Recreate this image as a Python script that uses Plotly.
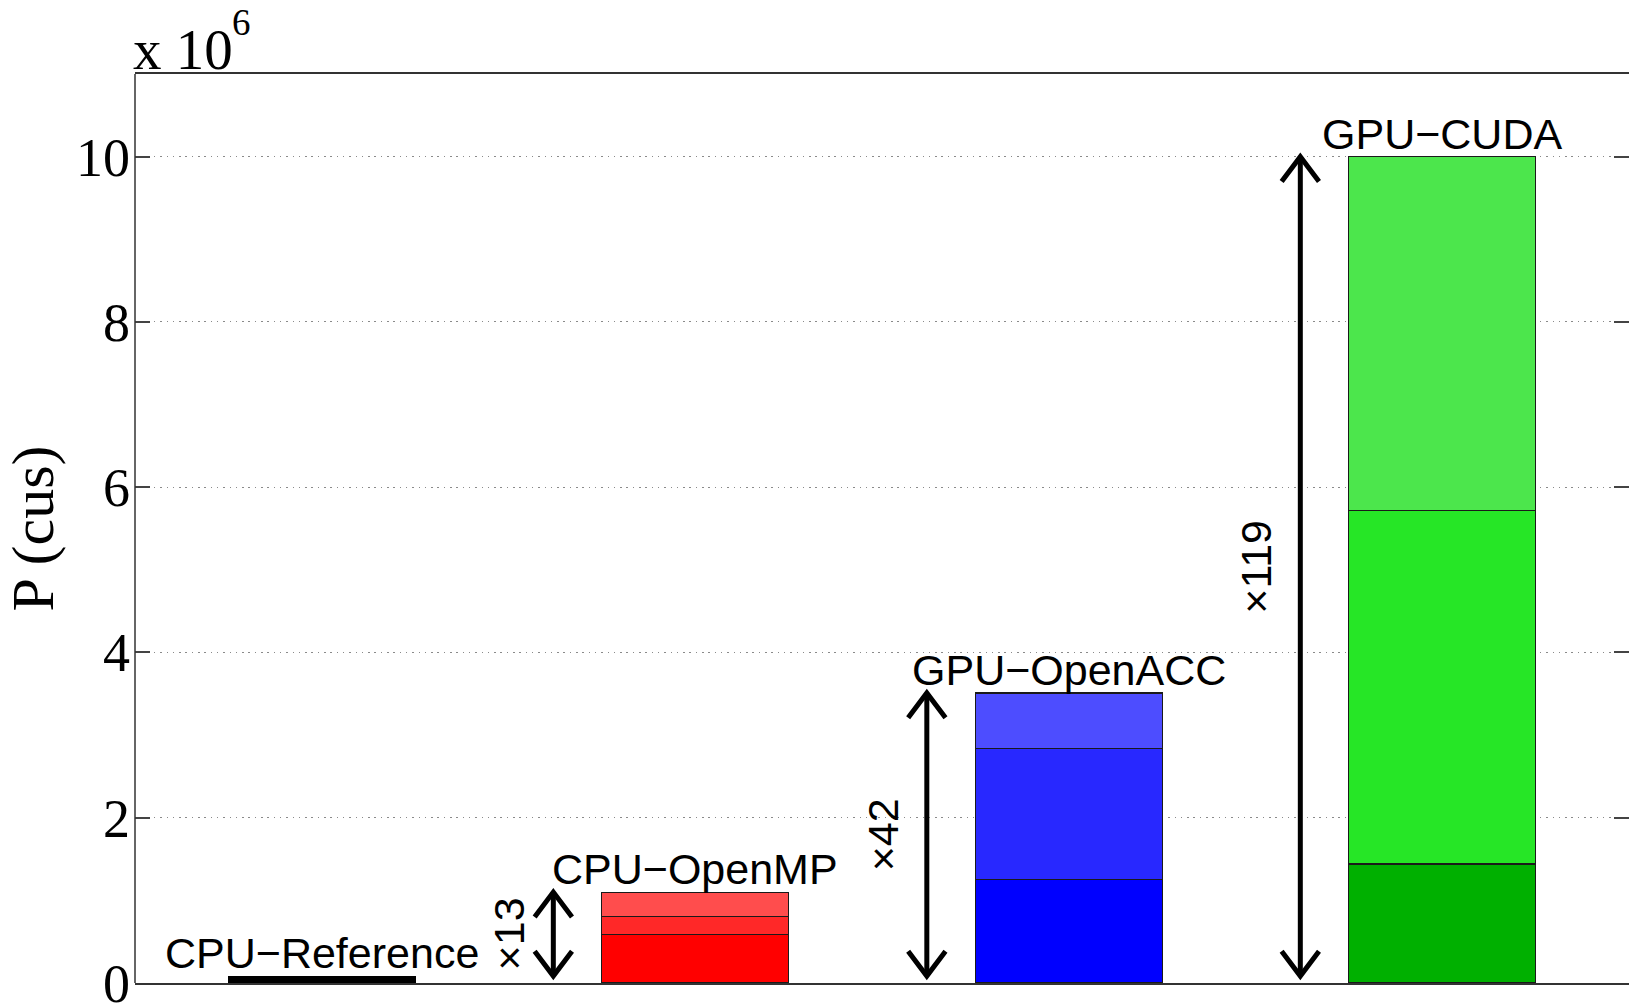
import plotly.graph_objects as go

# ---------------- data (units of 10^6 cus) ----------------
categories = ["CPU\u2212Reference", "CPU\u2212OpenMP", "GPU\u2212OpenACC", "GPU\u2212CUDA"]
positions = [1, 2, 3, 4]
reference_value = 0.084
# stacked segments for the parallel versions (OpenMP, OpenACC, CUDA)
seg_bottom = [0.59, 1.25, 1.44]
seg_middle = [0.21, 1.59, 4.28]
seg_top = [0.30, 0.67, 4.28]
speedups = ["\u00d713", "\u00d742", "\u00d7119"]
y_ticks = [0, 2, 4, 6, 8, 10]

col_bottom = ["#FF0000", "#0000FF", "#00B000"]
col_middle = ["#FF2828", "#2828FF", "#26E626"]
col_top = ["#FF4D4D", "#4D4DFF", "#4CE64C"]

totals = [a + b + c for a, b, c in zip(seg_bottom, seg_middle, seg_top)]

LABEL_FONT = dict(family="Liberation Sans, Arial, sans-serif", size=43, color="black")
SERIF = "Liberation Serif, Times New Roman, serif"

fig = go.Figure()

fig.add_trace(go.Bar(x=[positions[0]], y=[reference_value], width=0.5,
                     marker=dict(color="black", line=dict(color="black", width=1)),
                     showlegend=False, hoverinfo="skip"))
for seg, cols in [(seg_bottom, col_bottom), (seg_middle, col_middle), (seg_top, col_top)]:
    fig.add_trace(go.Bar(x=positions[1:], y=seg, width=0.5,
                         marker=dict(color=cols, line=dict(color="#1a1a1a", width=1.2)),
                         showlegend=False, hoverinfo="skip"))

# double-headed speed-up arrows (from reference level to the bar total)
arrow_offset = 0.38   # left of bar centre, in category units
head_dx = 0.05
head_dy = 0.30
for p, tot, lab in zip(positions[1:], totals, speedups):
    ax = p - arrow_offset
    xs = [ax, ax, None,
          ax - head_dx, ax, ax + head_dx, None,
          ax - head_dx, ax, ax + head_dx]
    ys = [reference_value, tot, None,
          tot - head_dy, tot, tot - head_dy, None,
          reference_value + head_dy, reference_value, reference_value + head_dy]
    fig.add_trace(go.Scatter(x=xs, y=ys, mode="lines",
                             line=dict(color="black", width=5),
                             showlegend=False, hoverinfo="skip"))
    fig.add_annotation(x=ax, y=(tot + reference_value) / 2, text=lab,
                       textangle=-90, showarrow=False, xshift=-44,
                       font=LABEL_FONT, xanchor="center", yanchor="middle")

# bar labels
for p, name, top in zip(positions, categories, [reference_value] + totals):
    fig.add_annotation(x=p, y=top, text=name, showarrow=False,
                       xanchor="center", yanchor="bottom", yshift=-3,
                       font=LABEL_FONT)

# exponent label ("x 10" with raised "6")
fig.add_annotation(xref="paper", yref="paper", x=0, y=1, xanchor="left", yanchor="bottom",
                   text="x 10", showarrow=False, yshift=-9, xshift=-4,
                   font=dict(family=SERIF, size=57, color="black"))
fig.add_annotation(xref="paper", yref="paper", x=0, y=1, xanchor="left", yanchor="bottom",
                   text="6", showarrow=False, yshift=29, xshift=95,
                   font=dict(family=SERIF, size=37, color="black"))

# left axis line
fig.add_shape(type="line", xref="paper", yref="paper", x0=0, x1=0, y0=0, y1=1,
              line=dict(color="#333333", width=1.5))

fig.update_layout(
    width=1629, height=1003,
    margin=dict(l=135, r=0, t=74, b=20),
    plot_bgcolor="white", paper_bgcolor="white",
    barmode="stack", bargap=0.5,
    xaxis=dict(range=[0.5, 4.5], showticklabels=False, ticks="", showgrid=False,
               zeroline=False, showline=True, mirror=True, automargin=False,
               linecolor="#333333", linewidth=1.5),
    yaxis=dict(range=[0, 11], tickvals=y_ticks, ticks="inside", ticklen=15,
               tickwidth=1.5, tickcolor="#444444", mirror="ticks", showline=False,
               zeroline=False, showgrid=True, gridcolor="#8a8a8a", gridwidth=1.2,
               griddash="1.5px,4.8px", ticklabelstandoff=4, automargin=False,
               ticklabeloverflow="allow",
               tickfont=dict(family=SERIF, size=54, color="black"),
               title=dict(text="P (cus)", font=dict(family=SERIF, size=60, color="black"),
                          standoff=4)),
)

fig.write_html("out.html", config={"displayModeBar": False},
               post_script="document.body.style.margin='0';document.body.style.overflow='hidden';")
